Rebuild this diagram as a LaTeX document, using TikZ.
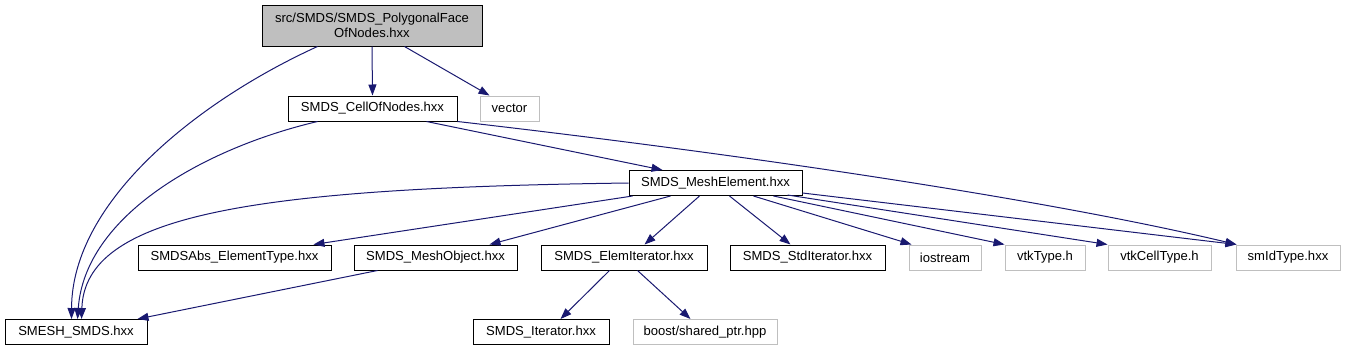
\documentclass[tikz,border=0pt]{standalone}
\usepackage{fontspec}
\setmainfont{Liberation Sans}
\usetikzlibrary{arrows.meta,calc}
\definecolor{edgec}{HTML}{191970}
\definecolor{extc}{HTML}{BFBFBF}
\begin{document}
\begin{tikzpicture}[x=0.75pt,y=-0.75pt,
  every node/.style={font=\fontsize{9.8pt}{11.5pt}\selectfont, inner sep=0pt, align=center},
  box/.style={draw=black, line width=0.75pt, minimum height=18.75pt},
  ext/.style={draw=extc, line width=0.75pt, minimum height=18.75pt},
  wd/.style={minimum width=#1*0.75pt},
  dep/.style={draw=edgec, line width=0.75pt, -{Triangle[length=8.25pt,width=6pt]}, fill=none},
  ]
\useasboundingbox (0,0) rectangle (1345,351);
% nodes
\node[box, fill=extc, wd=220, minimum height=30.75pt] (top) at (372,25.5) {src/SMDS/SMDS\_PolygonalFace\\OfNodes.hxx};
\node[box, wd=169] (cell) at (372.5,108.5) {SMDS\_CellOfNodes.hxx};
\node[ext, wd=59] (vector) at (509.5,108.5) {vector};
\node[box, wd=173] (mesh) at (715.5,183) {SMDS\_MeshElement.hxx};
\node[box, wd=193] (abs) at (234.5,257.5) {SMDSAbs\_ElementType.hxx};
\node[box, wd=163] (meshobj) at (435.5,257.5) {SMDS\_MeshObject.hxx};
\node[box, wd=166] (elemit) at (624,257.5) {SMDS\_ElemIterator.hxx};
\node[box, wd=155] (stdit) at (807.5,257.5) {SMDS\_StdIterator.hxx};
\node[ext, wd=72] (iostream) at (945,257.5) {iostream};
\node[ext, wd=80] (vtktype) at (1045,257.5) {vtkType.h};
\node[ext, wd=103] (vtkcell) at (1159.5,257.5) {vtkCellType.h};
\node[ext, wd=104] (smid) at (1288,257.5) {smIdType.hxx};
\node[box, wd=142] (smesh) at (76,332) {SMESH\_SMDS.hxx};
\node[box, wd=136] (smdsit) at (541,332) {SMDS\_Iterator.hxx};
\node[ext, wd=144] (boost) at (705,332) {boost/shared\_ptr.hpp};
% edges
\draw[dep] ($(top.south west)+(56,0)$) .. controls (200,100) and (72,200) .. ($(smesh.north west)+(67,0)$);
\draw[dep] (top.south) -- (cell.north);
\draw[dep] ($(top.south west)+(143,0)$) -- ($(vector.north west)+(10,0)$);
\draw[dep] ($(cell.south west)+(30,0)$) .. controls (205,148) and (85,215) .. ($(smesh.north west)+(73,0)$);
\draw[dep] ($(cell.south west)+(139,0)$) -- ($(mesh.north west)+(34,0)$);
\draw[dep] (cell.south east) .. controls (750,155) and (1050,200) .. ($(smid.north west)+(1,0)$);
\draw[dep] (mesh.west) .. controls (250,188) and (85,215) .. ($(smesh.north west)+(77,0)$);
\draw[dep] ($(mesh.south west)+(4,0)$) -- ($(abs.north west)+(176,0)$);
\draw[dep] ($(mesh.south west)+(42,0)$) -- ($(meshobj.north west)+(136,0)$);
\draw[dep] ($(mesh.south west)+(71,0)$) -- ($(elemit.north west)+(104,0)$);
\draw[dep] ($(mesh.south west)+(101,0)$) -- ($(stdit.north west)+(61,0)$);
\draw[dep] ($(mesh.south west)+(125,0)$) -- ($(iostream.north west)+(3,0)$);
\draw[dep] ($(mesh.south west)+(145,0)$) -- (vtktype.north west);
\draw[dep] ($(mesh.south east)+(-15,-1)$) -- (vtkcell.north west);
\draw[dep] ($(mesh.south east)+(0,-3)$) -- ($(smid.north west)+(1,0)$);
\draw[dep] ($(meshobj.south west)+(24,0)$) -- ($(smesh.north west)+(133,0)$);
\draw[dep] ($(elemit.south west)+(69,0)$) -- ($(smdsit.north west)+(88,0)$);
\draw[dep] ($(elemit.south west)+(97,0)$) -- ($(boost.north west)+(58,0)$);
\end{tikzpicture}
\end{document}
